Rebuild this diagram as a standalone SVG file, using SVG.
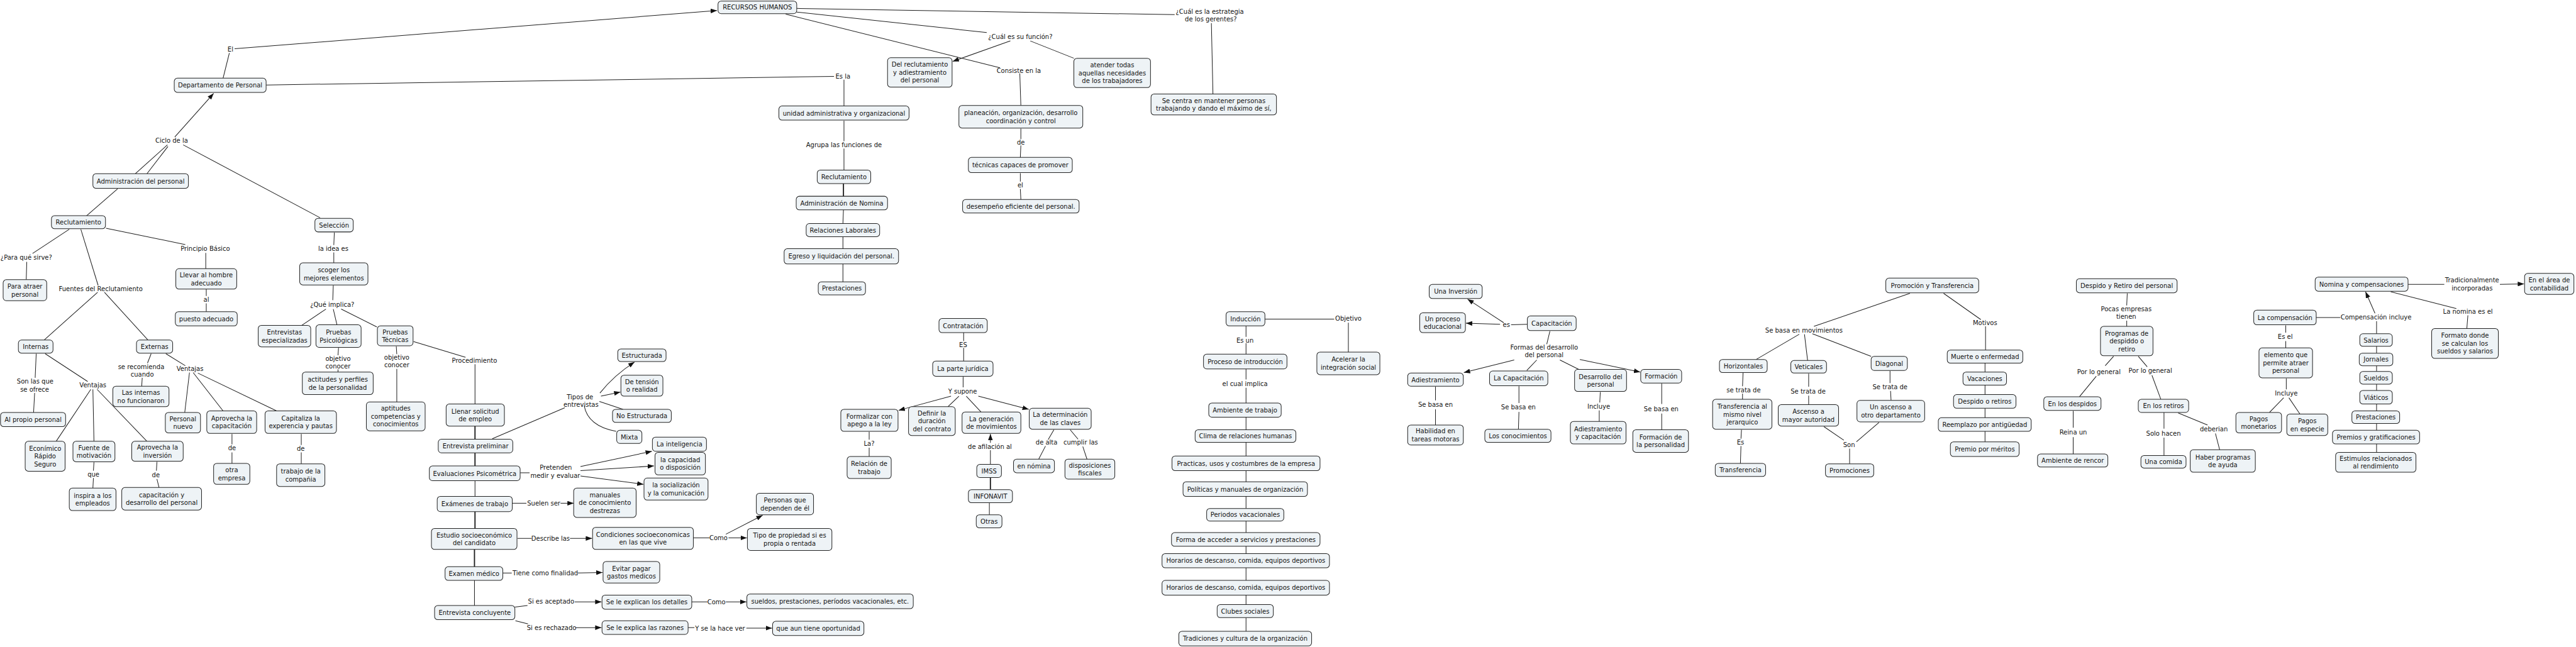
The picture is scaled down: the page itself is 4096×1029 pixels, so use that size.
<svg xmlns="http://www.w3.org/2000/svg" width="4096" height="1029" viewBox="0 0 4096 1029">
<style>
.node rect{fill:#eef3f6;stroke:#222;stroke-width:1.2;rx:6px;ry:6px}
text{font-family:"DejaVu Sans",Verdana,sans-serif;font-size:12px;fill:#111;text-anchor:middle}
.c path{fill:none;stroke:#1c1c1c;stroke-width:1.2}
.c path.t{stroke-width:2.2}
.c path.a{marker-end:url(#ah)}
</style>
<defs>
<marker id="ah" markerWidth="12" markerHeight="9" refX="12" refY="4.5" orient="auto" markerUnits="userSpaceOnUse"><path d="M0,0 L12,4.5 L0,9 z" fill="#111"/></marker>
</defs>
<rect width="4096" height="1029" fill="#fff"/>
<g transform="scale(0.83456)">
<g id="connectors" class="c">
<path d="M425,149 L437,101"/>
<path class="a" d="M447,93 L1366,20"/>
<path d="M507,162 L1589,145.5"/>
<path d="M1608,152 L1608,202"/>
<path class="a" d="M333,261 L407,178"/>
<path d="M258,331 L319,276 M280,331 L320,279"/>
<path d="M349,276 L610,415"/>
<path d="M224,360 L165,411"/>
<path d="M132,437 L62,483 M51,499 L50,533"/>
<path d="M154,437 L187,544"/>
<path d="M186,557 L84,648 M199,557 L282,648"/>
<path d="M202,435 L353,466 M392,482 L392,512"/>
<path d="M393,551 L393,564 M393,578 L393,594"/>
<path d="M637,443 L636,467 M636,481 L636,501 M635,544 L634,572"/>
<path d="M621,589 L575,620 M635,589 L642,619 M650,589 L718,623"/>
<path d="M69,674 L67,720 M66,749 L64,786"/>
<path d="M86,674 L167,727 M173,742 L107,841 M177,742 L179,841 M185,742 L280,841"/>
<path d="M179,881 L178,897 M178,911 L177,930"/>
<path d="M299,880 L298,897 M299,913 L303,929"/>
<path d="M288,674 L281,692 M271,720 L270,736"/>
<path d="M316,674 L353,697 M361,710 L352,786 M368,710 L425,783 M377,711 L527,783"/>
<path d="M442,827 L442,847 M442,862 L442,883"/>
<path d="M574,827 L574,848 M574,862 L574,884"/>
<path d="M645,663 L644,677 M644,704 L644,709"/>
<path d="M755,660 L756,675 M756,703 L756,766"/>
<path d="M788,651 L887,681 M905,694 L905,770"/>
<path class="t" d="M905,812 L905,837 M905,863 L905,888"/>
<path d="M905,916 L905,946"/>
<path class="t" d="M905,975 L905,1007 M904,1047 L904,1080"/>
<path d="M904,1106 L904,1154"/>
<path d="M938,836 L1076,777"/>
<path class="a" d="M1143,749 Q1170,715 1209,690"/>
<path class="a" d="M1145,755 L1182,747"/>
<path d="M1142,765 L1187,780"/>
<path d="M1113,773 Q1120,812 1174,822"/>
<path d="M991,901 L1009,901"/>
<path class="a" d="M1106,889 L1242,860"/>
<path class="a" d="M1106,897 L1246,888"/>
<path class="a" d="M1106,907 L1226,923"/>
<path d="M976,959 L1003,959"/>
<path class="a" d="M1068,959 L1093,959"/>
<path d="M986,1026 L1013,1026"/>
<path class="a" d="M1086,1026 L1128,1026"/>
<path d="M1321,1025 L1352,1025"/>
<path class="a" d="M1383,1018 L1453,982"/>
<path class="a" d="M1388,1025 L1423,1025"/>
<path d="M958,1092 L975,1092"/>
<path class="a" d="M1101,1092 L1148,1091"/>
<path d="M981,1157 L1005,1154"/>
<path class="a" d="M1095,1147 L1146,1147"/>
<path d="M1318,1147 L1348,1147"/>
<path class="a" d="M1383,1147 L1422,1147"/>
<path d="M982,1183 L1006,1189"/>
<path class="a" d="M1097,1196 L1146,1196"/>
<path d="M1311,1196 L1323,1196"/>
<path class="a" d="M1422,1197 L1471,1197"/>
<path d="M1656,823 L1656,838 M1656,853 L1656,870"/>
<path d="M1836,634 L1836,650 M1836,663 L1836,688 M1835,718 L1835,738"/>
<path class="a" d="M1812,755 L1712,782"/>
<path d="M1827,755 L1806,775 M1841,755 L1869,785"/>
<path class="a" d="M1864,755 L1960,780"/>
<path d="M1887,885 L1887,858"/>
<path class="a" d="M1887,844 L1887,827"/>
<path class="t" d="M1887,910 L1887,933"/>
<path d="M1885,958 L1885,981"/>
<path d="M2008,819 L1997,838 M1992,850 L1979,875"/>
<path d="M2039,819 L2054,837 M2063,851 L2071,875"/>
<path d="M1518,16 L2238,28"/>
<path d="M1518,23 L1880,62"/>
<path d="M1497,27 L1905,129"/>
<path class="a" d="M1925,78 L1815,117"/>
<path d="M1963,78 L2046,111"/>
<path d="M2308,44 L2311,179"/>
<path d="M1943,140 L1945,201 M1945,245 L1945,265 M1945,277 L1944,300 M1944,330 L1944,346 M1944,360 L1945,380"/>
<path d="M1608,230 L1608,269 M1608,283 L1608,324"/>
<path class="t" d="M1607,350 L1607,374"/>
<path d="M1607,400 L1606,426 M1606,451 L1606,474 M1606,503 L1606,537"/>
<path d="M2410,608 L2542,608 M2569,615 L2569,671"/>
<path d="M2374,621 L2374,642 M2374,654 L2374,675 M2374,703 L2374,723 M2374,739 L2374,768 M2374,795 L2374,819 M2374,843 L2374,869 M2374,897 L2374,918 M2374,946 L2374,969 M2374,993 L2374,1015 M2374,1041 L2374,1055 M2374,1082 L2374,1106 M2374,1134 L2374,1152 M2374,1177 L2374,1203"/>
<path class="a" d="M2865,615 L2796,570"/>
<path class="a" d="M2858,618 L2793,616"/>
<path d="M2910,618 L2879,619 M2953,631 L2947,656"/>
<path class="a" d="M2885,686 L2789,710"/>
<path d="M2928,686 L2909,706 M2972,686 L3008,704"/>
<path class="a" d="M3010,685 L3125,709"/>
<path d="M2735,737 L2735,763 M2735,780 L2735,810"/>
<path d="M2894,736 L2894,768 M2894,785 L2893,818"/>
<path d="M3049,747 L3048,767 M3047,782 L3047,803"/>
<path d="M3166,731 L3166,770 M3166,788 L3166,819"/>
<path d="M3321,710 L3320,736 M3320,750 L3320,761 M3318,819 L3317,836 M3317,850 L3316,883"/>
<path d="M3639,559 L3456,622 M3428,637 L3346,685 M3438,637 L3444,687 M3453,636 L3565,679"/>
<path d="M3446,712 L3446,737 M3446,754 L3446,771"/>
<path d="M3601,707 L3601,730 M3602,745 L3603,763"/>
<path d="M3475,813 L3513,839 M3580,805 L3537,842 M3524,855 L3524,884"/>
<path d="M3703,559 L3774,609 M3783,622 L3783,667 M3782,692 L3782,709 M3782,734 L3782,752 M3782,778 L3782,796 M3782,822 L3782,842"/>
<path d="M4053,559 L4052,582 M4052,611 L4052,622"/>
<path d="M4027,679 L4011,697 M3994,717 L3962,756 M3950,783 L3950,815 M3950,833 L3950,865"/>
<path d="M4074,679 L4091,699 M4100,715 L4117,761 M4123,786 L4123,817 M4123,834 L4123,868"/>
<path d="M4150,787 L4206,810 M4221,826 L4229,857"/>
<path d="M4588,542 L4657,542"/>
<path class="a" d="M4763,542 L4809,541"/>
<path d="M4555,556 L4680,588 M4702,601 L4700,626"/>
<path class="a" d="M4525,597 L4507,556"/>
<path d="M4413,605 L4459,605 M4528,612 L4528,636 M4528,660 L4528,673 M4528,697 L4528,708 M4528,732 L4528,744 M4528,770 L4528,783 M4528,807 L4528,820 M4528,846 L4528,862"/>
<path d="M4355,620 L4355,634 M4355,650 L4355,663 M4356,721 L4356,742 M4351,758 L4324,786 M4361,758 L4382,789"/>
</g>
<g id="labels">
<text x="439" y="98">El</text>
<text x="1606" y="149.5">Es la</text>
<text x="327" y="272.5">Ciclo de la</text>
<text x="1" y="494.5" style="text-anchor:start">¿Para qué sirve?</text>
<text x="192" y="554.5">Fuentes del Reclutamiento</text>
<text x="391" y="477.5">Principio Básico</text>
<text x="393" y="575.5">al</text>
<text x="635" y="478.5">la idea es</text>
<text x="633" y="584.5">¿Qué implica?</text>
<text x="67" y="731.5">Son las que</text><text x="66" y="746">se ofrece</text>
<text x="177" y="738.5">Ventajas</text>
<text x="178" y="908.5">que</text>
<text x="297" y="909.5">de</text>
<text x="269" y="703.5">se recomienda</text><text x="271" y="718">cuando</text>
<text x="362" y="706.5">Ventajas</text>
<text x="442" y="858.5">de</text>
<text x="573" y="859.5">de</text>
<text x="644" y="687.5">objetivo</text><text x="644" y="702">conocer</text>
<text x="756" y="685.5">objetivo</text><text x="756" y="700">conocer</text>
<text x="904" y="691.5">Procedimiento</text>
<text x="1105" y="760.5">Tipos de</text><text x="1107" y="775">entrevistas</text>
<text x="1059" y="895.5">Pretenden</text><text x="1058" y="911">medir y evaluar</text>
<text x="1036" y="963.5">Suelen ser</text>
<text x="1049" y="1030.5">Describe las</text>
<text x="1369" y="1029.5">Como</text>
<text x="1039" y="1096.5">Tiene como finalidad</text>
<text x="1050" y="1150.5">Si es aceptado</text>
<text x="1365" y="1151.5">Como</text>
<text x="1051" y="1200.5">Si es rechazado</text>
<text x="1372" y="1201.5">Y se la hace ver</text>
<text x="1656" y="849.5">La?</text>
<text x="1835" y="661.5">ES</text>
<text x="1834" y="750.5">Y supone</text>
<text x="1886" y="855.5">de afilación al</text>
<text x="1994" y="847.5">de alta</text>
<text x="2059" y="847.5">cumplir las</text>
<text x="2372" y="652.5">Es un</text>
<text x="2372" y="735.5">el cual implica</text>
<text x="2569" y="611.5">Objetivo</text>
<text x="2305" y="26.5">¿Cuál es la estrategia</text><text x="2307" y="41">de los gerentes?</text>
<text x="1944" y="74.5">¿Cuál es su función?</text>
<text x="1941" y="138.5">Consiste en la</text>
<text x="1945" y="275.5">de</text>
<text x="1944" y="357.5">el</text>
<text x="1608" y="280.5">Agrupa las funciones de</text>
<text x="2870" y="622.5">es</text>
<text x="2942" y="666.5">Formas del desarrollo</text><text x="2942" y="681">del personal</text>
<text x="2735" y="775.5">Se basa en</text>
<text x="2893" y="780.5">Se basa en</text>
<text x="3046" y="778.5">Incluye</text>
<text x="3165" y="783.5">Se basa en</text>
<text x="3322" y="747.5">se trata de</text>
<text x="3316" y="847.5">Es</text>
<text x="3437" y="633.5">Se basa en movimientos</text>
<text x="3445" y="749.5">Se trata de</text>
<text x="3601" y="741.5">Se trata de</text>
<text x="3523" y="851.5">Son</text>
<text x="3782" y="619.5">Motivos</text>
<text x="4051" y="593.5">Pocas empresas</text><text x="4051" y="608">tienen</text>
<text x="3999" y="712.5">Por lo general</text>
<text x="3950" y="828.5">Reina un</text>
<text x="4097" y="710.5">Por lo general</text>
<text x="4122" y="830.5">Solo hacen</text>
<text x="4218" y="822.5">deberian</text>
<text x="4710" y="538.5">Tradicionalmente</text><text x="4710" y="553">incorporadas</text>
<text x="4702" y="598.5">La nomina es el</text>
<text x="4527" y="608.5">Compensación incluye</text>
<text x="4354" y="645.5">Es el</text>
<text x="4356" y="753.5">Incluye</text>
</g>
<g id="n_rh" class="node"><rect x="1368" y="2" width="150" height="24"/><text x="1443" y="18.5">RECURSOS HUMANOS</text></g>
<g id="n_dep" class="node"><rect x="332" y="149" width="175" height="27"/><text x="419.5" y="167">Departamento de Personal</text></g>
<g id="n_adm" class="node"><rect x="177" y="331" width="182" height="28"/><text x="268" y="349.5">Administración del personal</text></g>
<g id="n_rec" class="node"><rect x="98" y="411" width="103" height="25"/><text x="149.5" y="428">Reclutamiento</text></g>
<g id="n_sel" class="node"><rect x="600" y="416" width="73" height="26"/><text x="636.5" y="433.5">Selección</text></g>
<g id="n_atr" class="node"><rect x="6" y="533" width="83" height="40"/><text x="47.5" y="550">Para atraer</text><text x="47.5" y="565">personal</text></g>
<g id="n_lle" class="node"><rect x="335" y="512" width="116" height="39"/><text x="393" y="528.5">Llevar al hombre</text><text x="393" y="543.5">adecuado</text></g>
<g id="n_pue" class="node"><rect x="334" y="594" width="118" height="27"/><text x="393" y="612">puesto adecuado</text></g>
<g id="n_sco" class="node"><rect x="571" y="501" width="130" height="42"/><text x="636" y="519">scoger los</text><text x="636" y="534">mejores elementos</text></g>
<g id="n_int" class="node"><rect x="35" y="648" width="66" height="25"/><text x="68" y="665">Internas</text></g>
<g id="n_ext" class="node"><rect x="260" y="648" width="69" height="25"/><text x="294.5" y="665">Externas</text></g>
<g id="n_pro" class="node"><rect x="1" y="786" width="124" height="27"/><text x="63" y="804">Al propio personal</text></g>
<g id="n_eco" class="node"><rect x="48" y="841" width="76" height="57"/><text x="86" y="859">Econímico</text><text x="86" y="874">Rápido</text><text x="86" y="889">Seguro</text></g>
<g id="n_fue" class="node"><rect x="139" y="841" width="80" height="39"/><text x="179" y="857.5">Fuente de</text><text x="179" y="872.5">motivación</text></g>
<g id="n_apr" class="node"><rect x="251" y="841" width="98" height="38"/><text x="300" y="857">Aprovecha la</text><text x="300" y="872">inversión</text></g>
<g id="n_ins" class="node"><rect x="132" y="930" width="89" height="43"/><text x="176.5" y="948.5">inspira a los</text><text x="176.5" y="963.5">empleados</text></g>
<g id="n_cap" class="node"><rect x="232" y="929" width="152" height="43"/><text x="308" y="947.5">capacitación y</text><text x="308" y="962.5">desarrollo del personal</text></g>
<g id="n_lin" class="node"><rect x="215" y="736" width="107" height="39"/><text x="268.5" y="752.5">Las internas</text><text x="268.5" y="767.5">no funcionaron</text></g>
<g id="n_pn" class="node"><rect x="315" y="786" width="67" height="39"/><text x="348.5" y="802.5">Personal</text><text x="348.5" y="817.5">nuevo</text></g>
<g id="n_apc" class="node"><rect x="394" y="783" width="95" height="43"/><text x="441.5" y="801.5">Aprovecha la</text><text x="441.5" y="816.5">capacitación</text></g>
<g id="n_cpt" class="node"><rect x="505" y="783" width="136" height="43"/><text x="573" y="801.5">Capitaliza la</text><text x="573" y="816.5">experencia y pautas</text></g>
<g id="n_otr" class="node"><rect x="407" y="883" width="69" height="40"/><text x="441.5" y="900">otra</text><text x="441.5" y="915">empresa</text></g>
<g id="n_tra" class="node"><rect x="527" y="884" width="92" height="43"/><text x="573" y="902.5">trabajo de la</text><text x="573" y="917.5">compañia</text></g>
<g id="n_ent" class="node"><rect x="492" y="620" width="100" height="41"/><text x="542" y="637.5">Entrevistas</text><text x="542" y="652.5">especializadas</text></g>
<g id="n_psi" class="node"><rect x="602" y="619" width="86" height="43"/><text x="645" y="637.5">Pruebas</text><text x="645" y="652.5">Psicológicas</text></g>
<g id="n_tec" class="node"><rect x="719" y="621" width="68" height="38"/><text x="753" y="637">Pruebas</text><text x="753" y="652">Técnicas</text></g>
<g id="n_act" class="node"><rect x="576" y="709" width="135" height="43"/><text x="643.5" y="727.5">actitudes y perfiles</text><text x="643.5" y="742.5">de la personalidad</text></g>
<g id="n_apt" class="node"><rect x="698" y="766" width="112" height="55"/><text x="754" y="783">aptitudes</text><text x="754" y="798">competencias y</text><text x="754" y="813">conocimientos</text></g>
<g id="n_lls" class="node"><rect x="850" y="770" width="111" height="42"/><text x="905.5" y="788">Llenar solicitud</text><text x="905.5" y="803">de empleo</text></g>
<g id="n_epr" class="node"><rect x="835" y="837" width="142" height="26"/><text x="906" y="854.5">Entrevista preliminar</text></g>
<g id="n_evp" class="node"><rect x="818" y="888" width="173" height="28"/><text x="904.5" y="906.5">Evaluaciones Psicométrica</text></g>
<g id="n_exa" class="node"><rect x="833" y="946" width="143" height="29"/><text x="904.5" y="965">Exámenes de trabajo</text></g>
<g id="n_est" class="node"><rect x="822" y="1007" width="163" height="40"/><text x="903.5" y="1024">Estudio socioeconómico</text><text x="903.5" y="1039">del candidato</text></g>
<g id="n_emd" class="node"><rect x="848" y="1080" width="110" height="26"/><text x="903" y="1097.5">Examen médico</text></g>
<g id="n_ecn" class="node"><rect x="828" y="1154" width="153" height="27"/><text x="904.5" y="1172">Entrevista concluyente</text></g>
<g id="n_estr" class="node"><rect x="1177" y="665" width="92" height="24"/><text x="1223" y="681.5">Estructurada</text></g>
<g id="n_ten" class="node"><rect x="1183" y="715" width="80" height="40"/><text x="1223" y="732">De tensión</text><text x="1223" y="747">o realidad</text></g>
<g id="n_noe" class="node"><rect x="1167" y="780" width="112" height="25"/><text x="1223" y="797">No Estructurada</text></g>
<g id="n_mix" class="node"><rect x="1175" y="820" width="48" height="25"/><text x="1199" y="837">Mixta</text></g>
<g id="n_intl" class="node"><rect x="1243" y="833" width="103" height="27"/><text x="1294.5" y="851">La inteligencia</text></g>
<g id="n_cd" class="node"><rect x="1248" y="862" width="96" height="43"/><text x="1296" y="880.5">la capacidad</text><text x="1296" y="895.5">o disposición</text></g>
<g id="n_soc" class="node"><rect x="1227" y="911" width="122" height="42"/><text x="1288" y="929">la socialización</text><text x="1288" y="944">y la comunicación</text></g>
<g id="n_man" class="node"><rect x="1093" y="930" width="119" height="56"/><text x="1152.5" y="947.5">manuales</text><text x="1152.5" y="962.5">de conocimiento</text><text x="1152.5" y="977.5">destrezas</text></g>
<g id="n_con" class="node"><rect x="1129" y="1005" width="192" height="42"/><text x="1225" y="1023">Condiciones socioeconomicas</text><text x="1225" y="1038">en las que vive</text></g>
<g id="n_per" class="node"><rect x="1441" y="940" width="109" height="41"/><text x="1495.5" y="957.5">Personas que</text><text x="1495.5" y="972.5">dependen de él</text></g>
<g id="n_tip" class="node"><rect x="1424" y="1007" width="161" height="42"/><text x="1504.5" y="1025">Tipo de propiedad si es</text><text x="1504.5" y="1040">propia o rentada</text></g>
<g id="n_evi" class="node"><rect x="1149" y="1070" width="108" height="41"/><text x="1203" y="1087.5">Evitar pagar</text><text x="1203" y="1102.5">gastos medicos</text></g>
<g id="n_sed" class="node"><rect x="1147" y="1134" width="171" height="27"/><text x="1232.5" y="1152">Se le explican los detalles</text></g>
<g id="n_sue" class="node"><rect x="1423" y="1132" width="317" height="28"/><text x="1581.5" y="1150.5">sueldos, prestaciones, períodos vacacionales, etc.</text></g>
<g id="n_sra" class="node"><rect x="1147" y="1183" width="164" height="26"/><text x="1229" y="1200.5">Se le explica las razones</text></g>
<g id="n_qat" class="node"><rect x="1472" y="1184" width="174" height="27"/><text x="1559" y="1202">que aun tiene oportunidad</text></g>
<g id="n_for" class="node"><rect x="1602" y="780" width="109" height="42"/><text x="1656.5" y="798">Formalizar con</text><text x="1656.5" y="813">apego a la ley</text></g>
<g id="n_rel" class="node"><rect x="1614" y="870" width="84" height="42"/><text x="1656" y="888">Relación de</text><text x="1656" y="903">trabajo</text></g>
<g id="n_cnt" class="node"><rect x="1789" y="607" width="92" height="27"/><text x="1835" y="625">Contratación</text></g>
<g id="n_pju" class="node"><rect x="1777" y="688" width="115" height="29"/><text x="1834.5" y="707">La parte jurídica</text></g>
<g id="n_def" class="node"><rect x="1731" y="775" width="89" height="55"/><text x="1775.5" y="792">Definir la</text><text x="1775.5" y="807">duración</text><text x="1775.5" y="822">del contrato</text></g>
<g id="n_gen" class="node"><rect x="1833" y="785" width="112" height="41"/><text x="1889" y="802.5">La generación</text><text x="1889" y="817.5">de movimientos</text></g>
<g id="n_det" class="node"><rect x="1961" y="778" width="118" height="40"/><text x="2020" y="795">La determinación</text><text x="2020" y="810">de las claves</text></g>
<g id="n_ims" class="node"><rect x="1861" y="885" width="47" height="25"/><text x="1884.5" y="902">IMSS</text></g>
<g id="n_inf" class="node"><rect x="1845" y="933" width="84" height="25"/><text x="1887" y="950">INFONAVIT</text></g>
<g id="n_otras" class="node"><rect x="1860" y="981" width="49" height="25"/><text x="1884.5" y="998">Otras</text></g>
<g id="n_nom" class="node"><rect x="1931" y="875" width="78" height="26"/><text x="1970" y="892.5">en nómina</text></g>
<g id="n_dis" class="node"><rect x="2029" y="875" width="95" height="38"/><text x="2076.5" y="891">disposiciones</text><text x="2076.5" y="906">fiscales</text></g>
<g id="n_del" class="node"><rect x="1691" y="110" width="123" height="56"/><text x="1752.5" y="127.5">Del reclutamiento</text><text x="1752.5" y="142.5">y adiestramiento</text><text x="1752.5" y="157.5">del personal</text></g>
<g id="n_ate" class="node"><rect x="2046" y="111" width="146" height="56"/><text x="2119" y="128.5">atender todas</text><text x="2119" y="143.5">aquellas necesidades</text><text x="2119" y="158.5">de los trabajadores</text></g>
<g id="n_sec" class="node"><rect x="2193" y="179" width="239" height="40"/><text x="2312.5" y="196">Se centra en mantener personas</text><text x="2312.5" y="211">trabajando y dando el máximo de sí,</text></g>
<g id="n_pla" class="node"><rect x="1827" y="201" width="236" height="43"/><text x="1945" y="219.5">planeación, organización, desarrollo</text><text x="1945" y="234.5">coordinación y control</text></g>
<g id="n_tcp" class="node"><rect x="1845" y="300" width="198" height="29"/><text x="1944" y="319">técnicas capaces de promover</text></g>
<g id="n_des" class="node"><rect x="1834" y="380" width="222" height="26"/><text x="1945" y="397.5">desempeño eficiente del personal.</text></g>
<g id="n_uni" class="node"><rect x="1484" y="202" width="248" height="27"/><text x="1608" y="220">unidad administrativa y organizacional</text></g>
<g id="n_rec2" class="node"><rect x="1557" y="324" width="102" height="26"/><text x="1608" y="341.5">Reclutamiento</text></g>
<g id="n_adn" class="node"><rect x="1517" y="374" width="174" height="26"/><text x="1604" y="391.5">Administración de Nomina</text></g>
<g id="n_rla" class="node"><rect x="1536" y="426" width="140" height="25"/><text x="1606" y="443">Relaciones Laborales</text></g>
<g id="n_egr" class="node"><rect x="1494" y="474" width="218" height="29"/><text x="1603" y="493">Egreso y liquidación del personal.</text></g>
<g id="n_pre" class="node"><rect x="1559" y="537" width="90" height="25"/><text x="1604" y="554">Prestaciones</text></g>
<g id="n_ind" class="node"><rect x="2336" y="594" width="74" height="27"/><text x="2373" y="612">Inducción</text></g>
<g id="n_acl" class="node"><rect x="2509" y="671" width="120" height="43"/><text x="2569" y="689.5">Acelerar la</text><text x="2569" y="704.5">integración social</text></g>
<g id="n_pdi" class="node"><rect x="2293" y="675" width="159" height="28"/><text x="2372.5" y="693.5">Proceso de introducción</text></g>
<g id="n_amb" class="node"><rect x="2303" y="768" width="138" height="27"/><text x="2372" y="786">Ambiente de trabajo</text></g>
<g id="n_cli" class="node"><rect x="2277" y="819" width="192" height="24"/><text x="2373" y="835.5">Clima de relaciones humanas</text></g>
<g id="n_pra" class="node"><rect x="2233" y="869" width="282" height="28"/><text x="2374" y="887.5">Practicas, usos y costumbres de la empresa</text></g>
<g id="n_pol" class="node"><rect x="2254" y="918" width="237" height="28"/><text x="2372.5" y="936.5">Políticas y manuales de organización</text></g>
<g id="n_pva" class="node"><rect x="2299" y="969" width="147" height="24"/><text x="2372.5" y="985.5">Periodos vacacionales</text></g>
<g id="n_fac" class="node"><rect x="2232" y="1015" width="283" height="26"/><text x="2373.5" y="1032.5">Forma de acceder a servicios y prestaciones</text></g>
<g id="n_hr1" class="node"><rect x="2214" y="1055" width="319" height="27"/><text x="2373.5" y="1073">Horarios de descanso, comida, equipos deportivos</text></g>
<g id="n_hr2" class="node"><rect x="2214" y="1106" width="319" height="28"/><text x="2373.5" y="1124.5">Horarios de descanso, comida, equipos deportivos</text></g>
<g id="n_clu" class="node"><rect x="2319" y="1152" width="107" height="25"/><text x="2372.5" y="1169">Clubes sociales</text></g>
<g id="n_trd" class="node"><rect x="2246" y="1203" width="253" height="28"/><text x="2372.5" y="1221.5">Tradiciones y cultura de la organización</text></g>
<g id="n_inv" class="node"><rect x="2723" y="542" width="101" height="27"/><text x="2773.5" y="560">Una Inversión</text></g>
<g id="n_upe" class="node"><rect x="2705" y="596" width="87" height="38"/><text x="2748.5" y="612">Un proceso</text><text x="2748.5" y="627">educacional</text></g>
<g id="n_cpc" class="node"><rect x="2910" y="602" width="93" height="28"/><text x="2956.5" y="620.5">Capacitación</text></g>
<g id="n_adi" class="node"><rect x="2682" y="711" width="106" height="25"/><text x="2735" y="728">Adiestramiento</text></g>
<g id="n_lcp" class="node"><rect x="2838" y="707" width="111" height="28"/><text x="2893.5" y="725.5">La Capacitación</text></g>
<g id="n_ddp" class="node"><rect x="3000" y="704" width="99" height="42"/><text x="3049.5" y="722">Desarrollo del</text><text x="3049.5" y="737">personal</text></g>
<g id="n_frm" class="node"><rect x="3126" y="704" width="78" height="26"/><text x="3165" y="721.5">Formación</text></g>
<g id="n_hab" class="node"><rect x="2682" y="810" width="106" height="38"/><text x="2735" y="826">Habilidad en</text><text x="2735" y="841">tareas motoras</text></g>
<g id="n_lco" class="node"><rect x="2829" y="818" width="126" height="25"/><text x="2892" y="835">Los conocimientos</text></g>
<g id="n_ayc" class="node"><rect x="2992" y="803" width="106" height="43"/><text x="3045" y="821.5">Adiestramiento</text><text x="3045" y="836.5">y capacitación</text></g>
<g id="n_fdp" class="node"><rect x="3111" y="819" width="106" height="43"/><text x="3164" y="837.5">Formación de</text><text x="3164" y="852.5">la personalidad</text></g>
<g id="n_hoz" class="node"><rect x="3276" y="685" width="91" height="25"/><text x="3321.5" y="702">Horizontales</text></g>
<g id="n_tam" class="node"><rect x="3263" y="761" width="113" height="57"/><text x="3319.5" y="779">Transferencia al</text><text x="3319.5" y="794">mismo nivel</text><text x="3319.5" y="809">jerarquico</text></g>
<g id="n_trf" class="node"><rect x="3268" y="883" width="96" height="25"/><text x="3316" y="900">Transferencia</text></g>
<g id="n_pyt" class="node"><rect x="3593" y="530" width="177" height="28"/><text x="3681.5" y="548.5">Promoción y Transferencia</text></g>
<g id="n_vet" class="node"><rect x="3412" y="687" width="68" height="24"/><text x="3446" y="703.5">Veticales</text></g>
<g id="n_dia" class="node"><rect x="3565" y="679" width="69" height="27"/><text x="3599.5" y="697">Diagonal</text></g>
<g id="n_asc" class="node"><rect x="3388" y="771" width="115" height="41"/><text x="3445.5" y="788.5">Ascenso a</text><text x="3445.5" y="803.5">mayor autoridad</text></g>
<g id="n_uas" class="node"><rect x="3538" y="763" width="129" height="41"/><text x="3602.5" y="780.5">Un ascenso a</text><text x="3602.5" y="795.5">otro departamento</text></g>
<g id="n_prm" class="node"><rect x="3478" y="884" width="92" height="25"/><text x="3524" y="901">Promociones</text></g>
<g id="n_mue" class="node"><rect x="3710" y="667" width="144" height="25"/><text x="3782" y="684">Muerte o enfermedad</text></g>
<g id="n_vac" class="node"><rect x="3740" y="709" width="83" height="25"/><text x="3781.5" y="726">Vacaciones</text></g>
<g id="n_dor" class="node"><rect x="3722" y="752" width="119" height="26"/><text x="3781.5" y="769.5">Despido o retiros</text></g>
<g id="n_rpa" class="node"><rect x="3693" y="796" width="177" height="26"/><text x="3781.5" y="813.5">Reemplazo por antigüedad</text></g>
<g id="n_ppm" class="node"><rect x="3716" y="842" width="131" height="28"/><text x="3781.5" y="860.5">Premio por méritos</text></g>
<g id="n_dyr" class="node"><rect x="3956" y="531" width="192" height="27"/><text x="4052" y="549">Despido y Retiro del personal</text></g>
<g id="n_pdr" class="node"><rect x="4002" y="622" width="100" height="56"/><text x="4052" y="639.5">Programas de</text><text x="4052" y="654.5">despiddo o</text><text x="4052" y="669.5">retiro</text></g>
<g id="n_eld" class="node"><rect x="3894" y="756" width="109" height="26"/><text x="3948.5" y="773.5">En los despidos</text></g>
<g id="n_adr" class="node"><rect x="3882" y="865" width="134" height="25"/><text x="3949" y="882">Ambiente de rencor</text></g>
<g id="n_elr" class="node"><rect x="4074" y="761" width="96" height="25"/><text x="4122" y="778">En los retiros</text></g>
<g id="n_uco" class="node"><rect x="4079" y="868" width="86" height="24"/><text x="4122" y="884.5">Una comida</text></g>
<g id="n_hpa" class="node"><rect x="4173" y="857" width="124" height="43"/><text x="4235" y="875.5">Haber programas</text><text x="4235" y="890.5">de ayuda</text></g>
<g id="n_nyc" class="node"><rect x="4411" y="528" width="177" height="27"/><text x="4499.5" y="546">Nomina y compensaciones</text></g>
<g id="n_eac" class="node"><rect x="4810" y="521" width="94" height="40"/><text x="4857" y="538">En el área de</text><text x="4857" y="553">contabilidad</text></g>
<g id="n_fmt" class="node"><rect x="4633" y="626" width="127" height="57"/><text x="4696.5" y="644">Formato donde</text><text x="4696.5" y="659">se calculan los</text><text x="4696.5" y="674">sueldos y salarios</text></g>
<g id="n_lcm" class="node"><rect x="4294" y="591" width="119" height="28"/><text x="4353.5" y="609.5">La compensación</text></g>
<g id="n_sal" class="node"><rect x="4496" y="636" width="62" height="24"/><text x="4527" y="652.5">Salarios</text></g>
<g id="n_jor" class="node"><rect x="4495" y="673" width="64" height="24"/><text x="4527" y="689.5">Jornales</text></g>
<g id="n_sld" class="node"><rect x="4496" y="708" width="62" height="24"/><text x="4527" y="724.5">Sueldos</text></g>
<g id="n_via" class="node"><rect x="4496" y="744" width="62" height="26"/><text x="4527" y="761.5">Viáticos</text></g>
<g id="n_pst" class="node"><rect x="4481" y="783" width="91" height="24"/><text x="4526.5" y="799.5">Prestaciones</text></g>
<g id="n_pyg" class="node"><rect x="4444" y="820" width="166" height="26"/><text x="4527" y="837.5">Premios y gratificaciones</text></g>
<g id="n_eri" class="node"><rect x="4450" y="862" width="153" height="38"/><text x="4526.5" y="878">Estimulos relacionados</text><text x="4526.5" y="893">al rendimiento</text></g>
<g id="n_epa" class="node"><rect x="4304" y="663" width="102" height="57"/><text x="4355" y="681">elemento que</text><text x="4355" y="696">permite atraer</text><text x="4355" y="711">personal</text></g>
<g id="n_pmo" class="node"><rect x="4260" y="786" width="87" height="39"/><text x="4303.5" y="802.5">Pagos</text><text x="4303.5" y="817.5">monetarios</text></g>
<g id="n_pes" class="node"><rect x="4357" y="789" width="78" height="41"/><text x="4396" y="806.5">Pagos</text><text x="4396" y="821.5">en especie</text></g>
</g>
</svg>
